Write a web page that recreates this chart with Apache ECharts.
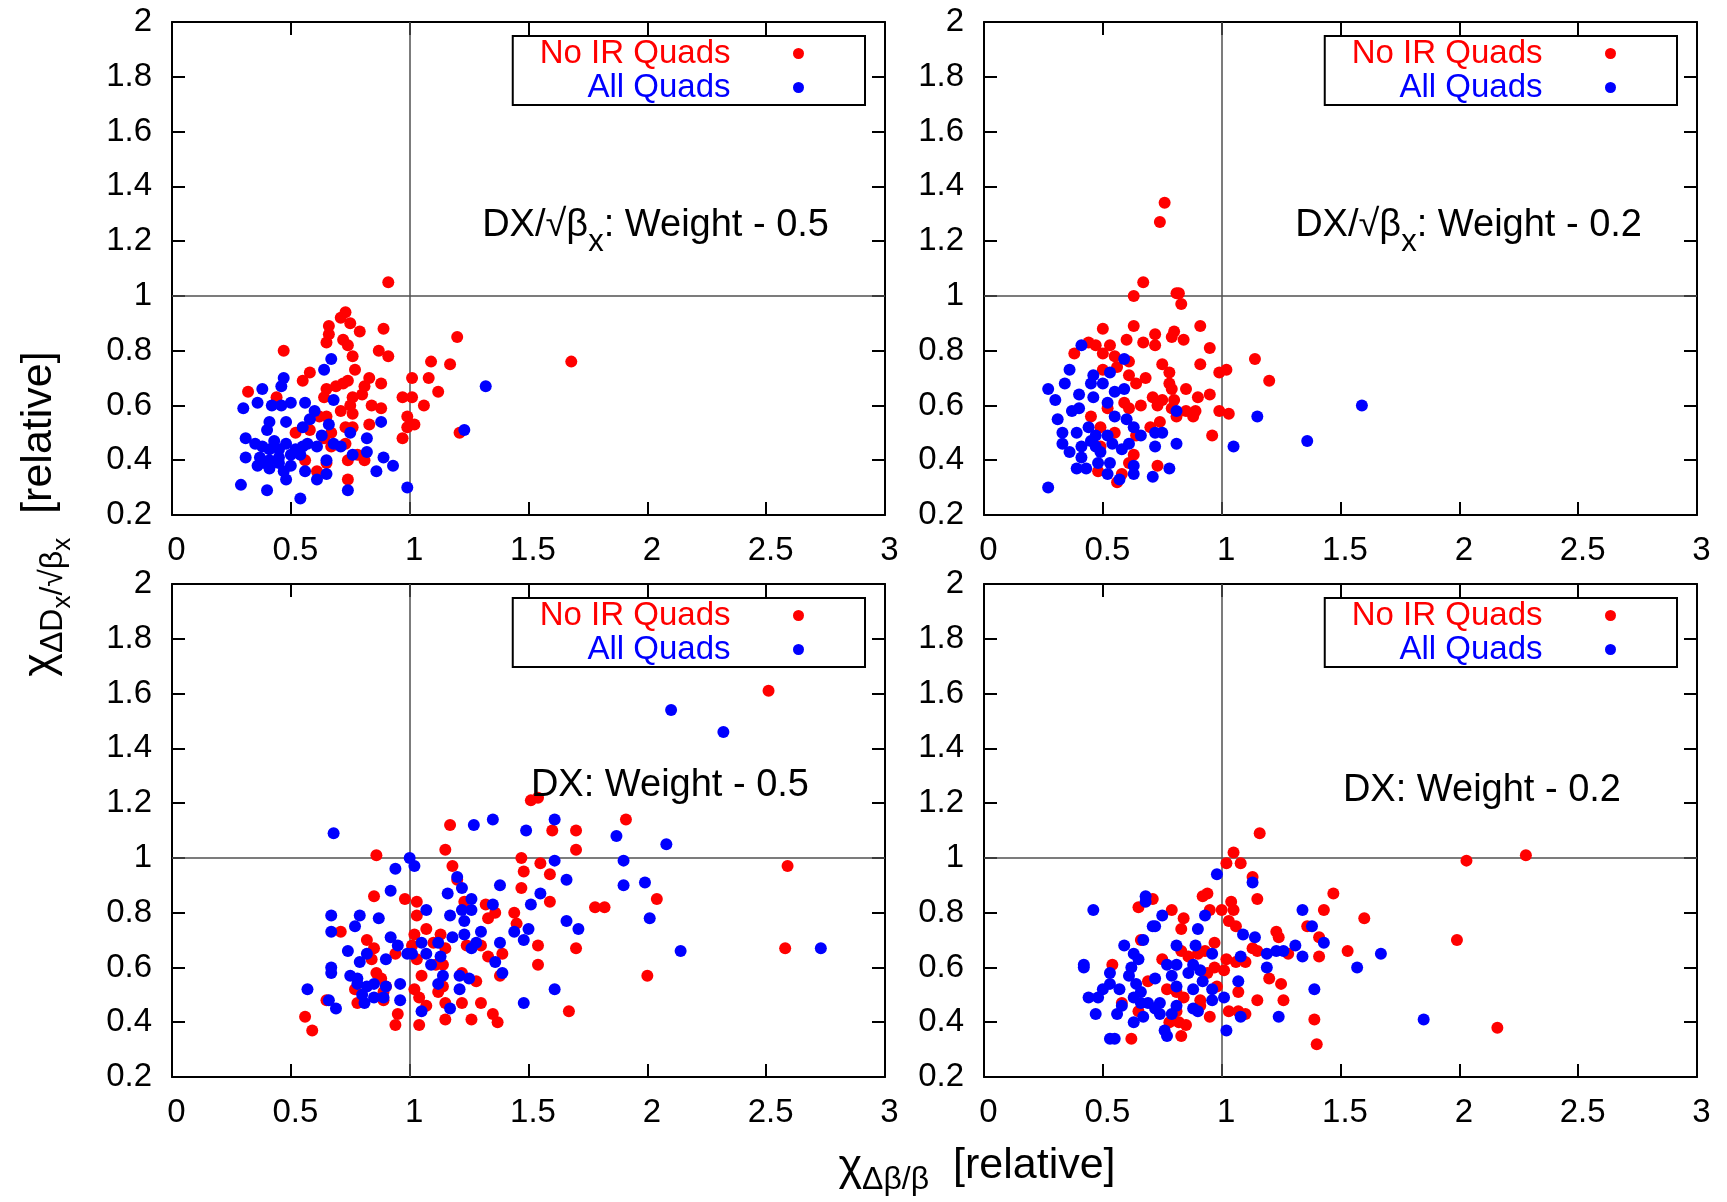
<!DOCTYPE html>
<html>
<head>
<meta charset="utf-8">
<title>χΔDx/√βx vs χΔβ/β</title>
<script src="https://cdn.jsdelivr.net/npm/echarts/dist/echarts.min.js"></script>
<style>
    html, body { margin: 0; padding: 0; background: #fff; }
    #chart { width: 1727px; height: 1202px; }
</style>
</head>
<body>
<div id="chart"></div>
<script>
// ---------------- 数据 ----------------
const seriesNames = ['No IR Quads', 'All Quads'];

// "_x" 表示下标
const panelNotes = ['DX/√β_x: Weight - 0.5', 'DX/√β_x: Weight - 0.2', 'DX: Weight - 0.5', 'DX: Weight - 0.2'];

// 左上：DX/√βx 权重 0.5
const tlNoIR = [
    [0.91, 1.05], [0.73, 0.94], [0.71, 0.92], [0.75, 0.9], [0.79, 0.87], [0.66, 0.89], [0.66, 0.86], [0.65, 0.83],
    [0.72, 0.84], [0.74, 0.82], [0.89, 0.88], [1.2, 0.85], [0.47, 0.8], [0.87, 0.8], [0.91, 0.78], [0.76, 0.78],
    [1.09, 0.76], [1.17, 0.75], [0.77, 0.73], [1.08, 0.7], [1.01, 0.7], [1.12, 0.65], [0.83, 0.7], [0.88, 0.68],
    [0.58, 0.72], [0.55, 0.69], [0.32, 0.65], [0.44, 0.63], [0.72, 0.68], [0.74, 0.69], [0.69, 0.67], [0.65, 0.66],
    [0.81, 0.67], [0.8, 0.64], [0.64, 0.63], [0.76, 0.63], [0.75, 0.6], [0.84, 0.6], [0.88, 0.59], [0.97, 0.63],
    [1.01, 0.63], [1.06, 0.6], [0.99, 0.56], [1.02, 0.53], [0.99, 0.52], [0.97, 0.48], [1.21, 0.5], [0.71, 0.58],
    [0.76, 0.57], [0.83, 0.53], [0.65, 0.56], [0.76, 0.52], [0.73, 0.52], [0.67, 0.5], [0.52, 0.5], [0.58, 0.51],
    [0.73, 0.46], [0.78, 0.42], [0.81, 0.4], [0.74, 0.4], [0.65, 0.39], [0.61, 0.36], [0.56, 0.4], [0.74, 0.33],
    [0.64, 0.48], [0.67, 0.45], [0.62, 0.56], [1.68, 0.76]
];
const tlAll = [
    [1.32, 0.67], [1.23, 0.51], [0.99, 0.3], [0.67, 0.77], [0.64, 0.73], [0.47, 0.7], [0.46, 0.67], [0.38, 0.66],
    [0.3, 0.59], [0.36, 0.61], [0.42, 0.6], [0.46, 0.6], [0.5, 0.61], [0.56, 0.61], [0.6, 0.58], [0.58, 0.55],
    [0.68, 0.62], [0.66, 0.53], [0.55, 0.52], [0.48, 0.54], [0.41, 0.54], [0.88, 0.54], [0.75, 0.5], [0.63, 0.49],
    [0.82, 0.48], [0.82, 0.43], [0.76, 0.42], [0.71, 0.45], [0.68, 0.46], [0.61, 0.45], [0.65, 0.4], [0.89, 0.41],
    [0.93, 0.38], [0.86, 0.36], [0.65, 0.35], [0.61, 0.33], [0.56, 0.36], [0.74, 0.29], [0.54, 0.26], [0.4, 0.29],
    [0.29, 0.31], [0.31, 0.41], [0.31, 0.48], [0.35, 0.46], [0.38, 0.45], [0.41, 0.44], [0.45, 0.44], [0.48, 0.46],
    [0.52, 0.44], [0.55, 0.45], [0.37, 0.41], [0.41, 0.4], [0.45, 0.41], [0.5, 0.42], [0.54, 0.42], [0.36, 0.38],
    [0.41, 0.37], [0.47, 0.36], [0.5, 0.38], [0.48, 0.33], [0.43, 0.47], [0.4, 0.51], [0.57, 0.46], [0.45, 0.39],
    [0.39, 0.39]
];

// 右上：DX/√βx 权重 0.2
const trNoIR = [
    [0.76, 1.34], [0.74, 1.27], [0.67, 1.05], [0.63, 1.0], [0.81, 1.01], [0.82, 1.01], [0.83, 0.97], [0.91, 0.89],
    [0.63, 0.89], [0.5, 0.88], [0.72, 0.86], [0.8, 0.87], [0.79, 0.85], [0.84, 0.84], [0.6, 0.84], [0.67, 0.83],
    [0.72, 0.82], [0.53, 0.82], [0.44, 0.83], [0.47, 0.82], [0.38, 0.79], [0.95, 0.81], [1.14, 0.77], [1.2, 0.69],
    [0.5, 0.79], [0.55, 0.78], [0.61, 0.76], [0.56, 0.74], [0.5, 0.73], [0.75, 0.75], [0.78, 0.72], [0.91, 0.75],
    [0.99, 0.72], [1.02, 0.73], [0.61, 0.71], [0.68, 0.7], [0.64, 0.68], [0.78, 0.68], [0.85, 0.66], [0.79, 0.66],
    [0.9, 0.63], [0.95, 0.64], [0.71, 0.63], [0.75, 0.62], [0.8, 0.62], [0.59, 0.61], [0.66, 0.6], [0.73, 0.6],
    [0.61, 0.59], [0.79, 0.59], [0.85, 0.58], [0.89, 0.58], [0.99, 0.58], [1.03, 0.57], [0.81, 0.56], [0.88, 0.56],
    [0.52, 0.59], [0.45, 0.56], [0.74, 0.54], [0.7, 0.52], [0.96, 0.49], [0.64, 0.49], [0.49, 0.52], [0.55, 0.5],
    [0.63, 0.42], [0.61, 0.39], [0.73, 0.38], [0.48, 0.36], [0.58, 0.35], [0.56, 0.32], [0.49, 0.45]
];
const trAll = [
    [1.59, 0.6], [1.15, 0.56], [1.36, 0.47], [1.05, 0.45], [0.81, 0.46], [0.81, 0.58], [0.41, 0.82], [0.59, 0.77],
    [0.36, 0.73], [0.46, 0.71], [0.53, 0.72], [0.34, 0.68], [0.27, 0.66], [0.3, 0.62], [0.4, 0.64], [0.45, 0.68],
    [0.5, 0.68], [0.55, 0.65], [0.59, 0.66], [0.46, 0.63], [0.52, 0.61], [0.37, 0.58], [0.4, 0.59], [0.31, 0.55],
    [0.33, 0.5], [0.33, 0.46], [0.36, 0.43], [0.55, 0.56], [0.6, 0.55], [0.63, 0.52], [0.44, 0.52], [0.39, 0.5],
    [0.47, 0.49], [0.52, 0.49], [0.41, 0.45], [0.47, 0.45], [0.54, 0.46], [0.58, 0.44], [0.66, 0.49], [0.72, 0.5],
    [0.75, 0.5], [0.61, 0.46], [0.72, 0.45], [0.41, 0.41], [0.48, 0.39], [0.53, 0.39], [0.39, 0.37], [0.43, 0.37],
    [0.52, 0.35], [0.63, 0.38], [0.63, 0.35], [0.57, 0.33], [0.71, 0.34], [0.78, 0.37], [0.27, 0.3], [0.45, 0.47],
    [0.49, 0.43]
];

// 左下：DX 权重 0.5
const blNoIR = [
    [1.51, 1.21], [1.54, 1.22], [1.17, 1.12], [0.86, 1.01], [1.15, 1.03], [1.47, 1.0], [1.18, 0.97], [1.55, 0.98],
    [1.48, 0.95], [1.59, 0.94], [1.2, 0.92], [1.47, 0.89], [0.85, 0.86], [0.98, 0.85], [1.03, 0.84], [1.03, 0.79],
    [1.32, 0.83], [1.36, 0.8], [1.33, 0.78], [1.59, 0.84], [1.44, 0.8], [1.45, 0.76], [1.23, 0.84], [0.71, 0.73],
    [0.82, 0.7], [0.85, 0.67], [0.84, 0.63], [1.02, 0.72], [1.07, 0.74], [1.13, 0.72], [1.01, 0.68], [1.03, 0.63],
    [1.1, 0.69], [1.15, 0.67], [1.24, 0.68], [1.3, 0.68], [1.33, 0.64], [1.39, 0.65], [1.54, 0.68], [1.54, 0.61],
    [0.94, 0.65], [1.11, 0.61], [1.14, 0.61], [1.38, 0.57], [1.05, 0.57], [0.86, 0.58], [0.88, 0.56], [0.9, 0.53],
    [0.77, 0.52], [1.28, 0.55], [1.22, 0.58], [1.14, 0.53], [1.12, 0.51], [1.02, 0.52], [1.04, 0.49], [1.07, 0.46],
    [1.15, 0.47], [1.22, 0.47], [1.3, 0.47], [1.35, 0.43], [1.37, 0.4], [1.26, 0.41], [1.15, 0.41], [1.04, 0.39],
    [0.94, 0.39], [0.95, 0.43], [0.78, 0.47], [0.89, 0.48], [0.65, 0.48], [0.56, 0.42], [0.59, 0.37], [0.89, 0.51],
    [2.51, 1.61], [1.91, 1.14], [1.6, 1.1], [1.7, 1.1], [1.7, 1.03], [2.59, 0.97], [1.78, 0.82], [1.82, 0.82],
    [2.04, 0.85], [1.7, 0.67], [2.58, 0.67], [2.0, 0.57], [1.67, 0.44]
];
const blAll = [
    [0.68, 1.09], [1.0, 1.0], [1.02, 0.97], [0.94, 0.96], [1.27, 1.12], [1.35, 1.14], [1.49, 1.1], [1.61, 1.14],
    [1.61, 0.99], [0.92, 0.88], [1.16, 0.87], [1.2, 0.93], [1.22, 0.89], [1.38, 0.9], [1.55, 0.87], [1.51, 0.83],
    [1.5, 0.74], [1.07, 0.81], [1.17, 0.79], [1.26, 0.85], [1.22, 0.81], [1.26, 0.81], [1.23, 0.77], [1.35, 0.83],
    [0.67, 0.79], [0.79, 0.79], [0.77, 0.75], [0.87, 0.78], [0.67, 0.73], [0.92, 0.71], [0.95, 0.68], [0.99, 0.65],
    [1.01, 0.65], [1.05, 0.69], [1.07, 0.65], [1.12, 0.69], [1.13, 0.64], [1.09, 0.61], [1.18, 0.71], [1.23, 0.72],
    [1.26, 0.67], [1.3, 0.73], [1.28, 0.69], [1.38, 0.69], [1.36, 0.62], [1.39, 0.58], [1.44, 0.73], [1.48, 0.7],
    [0.74, 0.66], [0.82, 0.65], [0.79, 0.62], [0.9, 0.63], [0.67, 0.6], [0.67, 0.58], [0.75, 0.57], [0.78, 0.56],
    [0.78, 0.54], [0.82, 0.53], [0.85, 0.54], [0.9, 0.53], [0.96, 0.54], [1.14, 0.57], [1.12, 0.54], [1.21, 0.57],
    [1.25, 0.56], [1.21, 0.52], [1.61, 0.52], [0.8, 0.5], [0.85, 0.49], [0.89, 0.49], [0.81, 0.47], [0.57, 0.52],
    [0.66, 0.48], [0.69, 0.45], [0.96, 0.48], [1.05, 0.44], [1.17, 0.45], [1.48, 0.47],
    [2.1, 1.54], [2.32, 1.46], [1.87, 1.08], [2.08, 1.05], [1.9, 0.99], [1.66, 0.92], [1.9, 0.9], [1.99, 0.91],
    [2.01, 0.78], [1.66, 0.77], [1.71, 0.74], [2.14, 0.66], [2.73, 0.67]
];

// 右下：DX 权重 0.2
const brNoIR = [
    [1.16, 1.09], [1.05, 1.02], [1.02, 0.98], [1.08, 0.98], [1.13, 0.93], [0.92, 0.86], [0.94, 0.87], [0.71, 0.85],
    [0.65, 0.82], [1.15, 0.85], [0.79, 0.81], [0.84, 0.78], [0.83, 0.74], [0.95, 0.81], [1.0, 0.81], [1.04, 0.84],
    [1.05, 0.81], [1.03, 0.77], [1.06, 0.75], [1.23, 0.73], [1.24, 0.71], [1.36, 0.75], [0.66, 0.7], [0.97, 0.69],
    [1.13, 0.67], [1.15, 0.66], [1.28, 0.65], [0.83, 0.66], [0.86, 0.64], [0.9, 0.65], [0.93, 0.66], [0.75, 0.63],
    [0.54, 0.61], [1.02, 0.63], [1.06, 0.62], [1.1, 0.62], [0.97, 0.6], [1.01, 0.59], [0.94, 0.58], [1.2, 0.56],
    [1.25, 0.54], [0.69, 0.55], [0.77, 0.52], [0.81, 0.51], [0.84, 0.49], [0.98, 0.53], [1.07, 0.51], [1.26, 0.48],
    [1.15, 0.48], [0.91, 0.48], [0.58, 0.47], [0.65, 0.44], [0.81, 0.44], [1.03, 0.44], [1.07, 0.44], [1.1, 0.43],
    [0.95, 0.42], [0.78, 0.4], [0.82, 0.4], [0.85, 0.39], [0.83, 0.35], [0.62, 0.34], [0.91, 0.46],
    [2.03, 0.99], [2.28, 1.01], [1.47, 0.87], [1.43, 0.81], [1.6, 0.78], [1.41, 0.71], [1.99, 0.7], [1.53, 0.66],
    [1.41, 0.64], [1.39, 0.41], [1.4, 0.32], [2.16, 0.38]
];
const brAll = [
    [0.98, 0.94], [1.13, 0.91], [0.68, 0.86], [0.68, 0.84], [0.46, 0.81], [0.75, 0.79], [0.93, 0.79], [0.71, 0.75],
    [0.72, 0.75], [0.9, 0.74], [1.09, 0.72], [1.14, 0.71], [1.34, 0.81], [1.34, 0.64], [0.67, 0.7], [0.59, 0.68],
    [0.81, 0.68], [0.89, 0.68], [1.19, 0.65], [1.23, 0.66], [1.26, 0.66], [1.31, 0.68], [1.08, 0.64], [0.96, 0.65],
    [0.63, 0.65], [0.65, 0.63], [0.77, 0.61], [0.81, 0.61], [0.88, 0.61], [0.91, 0.59], [1.19, 0.6], [0.42, 0.61],
    [0.42, 0.6], [0.62, 0.6], [0.53, 0.58], [0.61, 0.57], [0.79, 0.57], [0.86, 0.58], [0.72, 0.56], [0.64, 0.54],
    [0.92, 0.55], [1.07, 0.55], [0.53, 0.54], [0.5, 0.52], [0.57, 0.52], [0.81, 0.53], [0.88, 0.52], [0.96, 0.52],
    [0.44, 0.49], [0.48, 0.49], [0.63, 0.49], [0.66, 0.51], [0.96, 0.48], [1.01, 0.49], [0.58, 0.46], [0.66, 0.47],
    [0.69, 0.47], [0.74, 0.47], [0.81, 0.46], [0.88, 0.45], [0.9, 0.44], [0.56, 0.43], [0.47, 0.43], [0.72, 0.45],
    [0.74, 0.43], [0.67, 0.42], [0.79, 0.43], [0.63, 0.4], [1.08, 0.42], [1.24, 0.42], [1.02, 0.37], [0.76, 0.37],
    [0.77, 0.35], [0.53, 0.34], [0.55, 0.34],
    [1.38, 0.75], [1.43, 0.69], [1.67, 0.65], [1.57, 0.6], [1.39, 0.52], [1.85, 0.41]
];

const panelData = [[tlNoIR, tlAll], [trNoIR, trAll], [blNoIR, blAll], [brNoIR, brAll]];

// ---------------- 布局与样式 ----------------
const FONT = "'Liberation Sans', Arial, Helvetica, sans-serif";
const COLORS = ['#ff0000', '#0000ff'];
const GRID_W = 713;
const GRID_H = 493;

// 每个子图的位置，以及说明文字右端和竖直中心
const PANELS = [
    { left: 172, top: 22, noteX: 829, noteY: 228 },
    { left: 984, top: 22, noteX: 1642, noteY: 228 },
    { left: 172, top: 584, noteX: 809, noteY: 788 },
    { left: 984, top: 584, noteX: 1621, noteY: 793 }
];

/**
 * 生成坐标轴（主轴带刻度标签，镜像轴只画边框和刻度）
 */
function makeAxis(dim, gridIndex, position, withLabel) {
    const isX = dim === 'x';
    return {
        type: 'value',
        gridIndex,
        position,
        min: isX ? 0 : 0.2,
        max: isX ? 3 : 2,
        interval: isX ? 0.5 : 0.2,
        axisLine: { show: true, onZero: false, lineStyle: { color: '#000', width: 2 } },
        axisTick: { show: true, inside: true, length: 13, lineStyle: { color: '#000', width: 2 } },
        axisLabel: {
            show: withLabel,
            color: '#000',
            fontSize: 33,
            fontFamily: FONT,
            margin: isX ? 19 : 20,
            // 原图的 x 标签略向右偏
            padding: isX ? [0, 0, 0, 9] : 0,
            showMinLabel: true,
            showMaxLabel: true
        },
        splitLine: { show: false }
    };
}

/**
 * "_x" 转成富文本下标
 */
function richNote(str) {
    return str.split(/_(\w)/).map((part, i) => {
        if (!part) return '';
        return i % 2 ? '{s|' + part + '}' : '{m|' + part + '}';
    }).join('');
}

const noteRich = {
    m: { fontSize: 38, fontFamily: FONT, fill: '#000', lineHeight: 42, verticalAlign: 'top' },
    s: { fontSize: 31, fontFamily: FONT, fill: '#000', lineHeight: 33, verticalAlign: 'top', padding: [20, 0, 0, 0] }
};

const titleRich = {
    m: { fontSize: 43, fontFamily: FONT, fill: '#000', lineHeight: 48, verticalAlign: 'top' },
    chi: { fontSize: 45, fontFamily: FONT, fill: '#000', lineHeight: 48, verticalAlign: 'top' },
    s: { fontSize: 32, fontFamily: FONT, fill: '#000', lineHeight: 34, verticalAlign: 'top', padding: [19, 0, 0, 0] },
    ss: { fontSize: 26, fontFamily: FONT, fill: '#000', lineHeight: 28, verticalAlign: 'top', padding: [32, 0, 0, 0] }
};

const option = {
    animation: false,
    backgroundColor: '#fff',
    textStyle: { fontFamily: FONT },
    grid: [],
    xAxis: [],
    yAxis: [],
    legend: [],
    series: [],
    graphic: []
};

PANELS.forEach((p, i) => {
    option.grid.push({
        left: p.left, top: p.top, width: GRID_W, height: GRID_H,
        containLabel: false, outerBoundsMode: 'none'
    });
    option.xAxis.push(makeAxis('x', i, 'bottom', true), makeAxis('x', i, 'top', false));
    option.yAxis.push(makeAxis('y', i, 'left', true), makeAxis('y', i, 'right', false));

    panelData[i].forEach((points, k) => {
        const s = {
            name: seriesNames[k],
            type: 'scatter',
            xAxisIndex: 2 * i,
            yAxisIndex: 2 * i,
            data: points,
            symbol: 'circle',
            symbolSize: 12,
            itemStyle: { color: COLORS[k], opacity: 1 },
            emphasis: { disabled: true },
            z: 3 + k
        };
        // x = 1 与 y = 1 的参考线
        if (k === 0) {
            s.markLine = {
                silent: true,
                z: 1,
                symbol: ['none', 'none'],
                label: { show: false },
                lineStyle: { color: '#505050', width: 1.5, type: 'solid' },
                emphasis: { disabled: true },
                data: [{ xAxis: 1 }, { yAxis: 1 }]
            };
        }
        option.series.push(s);
    });

    // 图例：文字右对齐，圆点在右侧
    option.legend.push({
        data: seriesNames.map((name, k) => ({ name, textStyle: { color: COLORS[k] } })),
        orient: 'vertical',
        align: 'right',
        right: 1727 - (p.left + 693),
        top: p.top + 14,
        icon: 'circle',
        itemWidth: 126,
        itemHeight: 11,
        itemGap: 1,
        padding: [1, 61, 1, 27],
        borderColor: '#000',
        borderWidth: 2,
        borderRadius: 0,
        backgroundColor: '#fff',
        selectedMode: false,
        textStyle: { fontSize: 33, fontFamily: FONT }
    });

    option.graphic.push({
        type: 'text',
        x: p.noteX,
        y: p.noteY - 21,
        z: 10,
        style: {
            text: richNote(panelNotes[i]),
            rich: noteRich,
            align: 'right',
            verticalAlign: 'top',
            fill: '#000'
        }
    });
});

// 坐标轴标题
option.graphic.push({
    type: 'text',
    x: 18,
    y: 514,
    rotation: Math.PI / 2,
    style: {
        text: '{chi|χ}{s|ΔD}{ss|x}{s|/√β}{ss|x}{m|  [relative]}',
        rich: titleRich,
        align: 'center',
        verticalAlign: 'top',
        fill: '#000'
    }
}, {
    type: 'text',
    x: 977,
    y: 1145,
    style: {
        text: '{chi|χ}{s|Δβ/β}{m|  [relative]}',
        rich: titleRich,
        align: 'center',
        verticalAlign: 'top',
        fill: '#000'
    }
});

const chart = echarts.init(document.getElementById('chart'), null, { renderer: 'canvas' });
chart.setOption(option);

window.addEventListener('resize', () => chart.resize());
</script>
</body>
</html>
